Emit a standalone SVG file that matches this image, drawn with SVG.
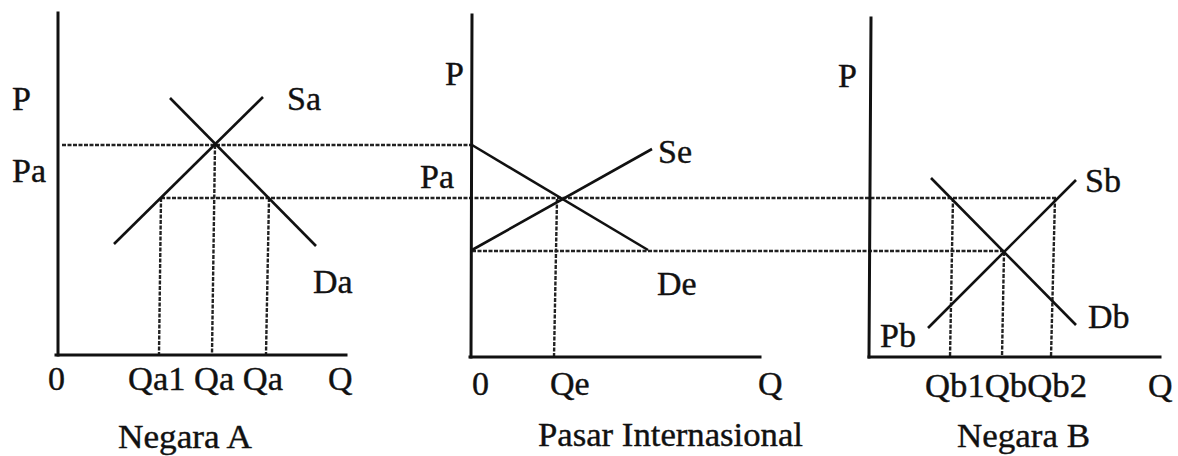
<svg xmlns="http://www.w3.org/2000/svg" width="1178" height="456" viewBox="0 0 1178 456">
<style>
.ax{stroke:#111;stroke-width:3;fill:none;stroke-linecap:square}
.cv{stroke:#111;stroke-width:2.6;fill:none}
.gd{stroke:#222;stroke-width:2.4;stroke-dasharray:4 1.5;fill:none}
.t{font-family:'Liberation Serif','Times New Roman',Times,serif;font-size:34px;fill:#111;stroke:#111;stroke-width:0.4}
</style>
<rect width="1178" height="456" fill="#fff"/>
<g id="guides">
<line class="gd" x1="62" y1="145" x2="472" y2="145"/>
<line class="gd" x1="161" y1="198" x2="1056" y2="198"/>
<line class="gd" x1="472" y1="251" x2="1004" y2="251"/>
<line class="gd" x1="161" y1="198" x2="159" y2="354"/>
<line class="gd" x1="215" y1="145" x2="212" y2="354"/>
<line class="gd" x1="269" y1="198" x2="266" y2="354"/>
<line class="gd" x1="557" y1="199" x2="554" y2="357"/>
<line class="gd" x1="953" y1="198" x2="950" y2="357"/>
<line class="gd" x1="1004" y1="252" x2="1002" y2="357"/>
<line class="gd" x1="1055" y1="198" x2="1051" y2="357"/>
</g>
<g id="panel-a">
<line class="ax" x1="58" y1="13" x2="58" y2="355"/>
<line class="ax" x1="56" y1="355" x2="346" y2="355"/>
<line class="cv" x1="114" y1="244" x2="263" y2="97"/>
<line class="cv" x1="170" y1="98" x2="316" y2="246"/>
<text class="t" x="12" y="110">P</text>
<text class="t" x="12" y="182">Pa</text>
<text class="t" x="287" y="110">Sa</text>
<text class="t" x="313" y="293">Da</text>
<text class="t" x="48" y="390">0</text>
<text class="t" x="128" y="390" textLength="155" lengthAdjust="spacingAndGlyphs">Qa1 Qa Qa</text>
<text class="t" x="328" y="390">Q</text>
<text class="t" x="118" y="448" textLength="134" lengthAdjust="spacingAndGlyphs">Negara A</text>
</g>
<g id="panel-e">
<line class="ax" x1="472" y1="15" x2="471" y2="357"/>
<line class="ax" x1="470" y1="357" x2="760" y2="357"/>
<line class="cv" x1="472" y1="145" x2="648" y2="250"/>
<line class="cv" x1="472" y1="250" x2="652" y2="149"/>
<text class="t" x="445" y="85">P</text>
<text class="t" x="420" y="188">Pa</text>
<text class="t" x="658" y="163">Se</text>
<text class="t" x="657" y="295">De</text>
<text class="t" x="472" y="395">0</text>
<text class="t" x="550" y="395">Qe</text>
<text class="t" x="758" y="395">Q</text>
<text class="t" x="538" y="446" textLength="265" lengthAdjust="spacingAndGlyphs">Pasar Internasional</text>
</g>
<g id="panel-b">
<line class="ax" x1="871" y1="18" x2="869" y2="357"/>
<line class="ax" x1="869" y1="357" x2="1160" y2="357"/>
<line class="cv" x1="931" y1="178" x2="1076" y2="325"/>
<line class="cv" x1="928" y1="328" x2="1076" y2="180"/>
<text class="t" x="838" y="87">P</text>
<text class="t" x="1085" y="192">Sb</text>
<text class="t" x="1088" y="328">Db</text>
<text class="t" x="880" y="347">Pb</text>
<text class="t" x="925" y="397" textLength="162" lengthAdjust="spacingAndGlyphs">Qb1QbQb2</text>
<text class="t" x="1148" y="397">Q</text>
<text class="t" x="957" y="447" textLength="133" lengthAdjust="spacingAndGlyphs">Negara B</text>
</g>
</svg>
